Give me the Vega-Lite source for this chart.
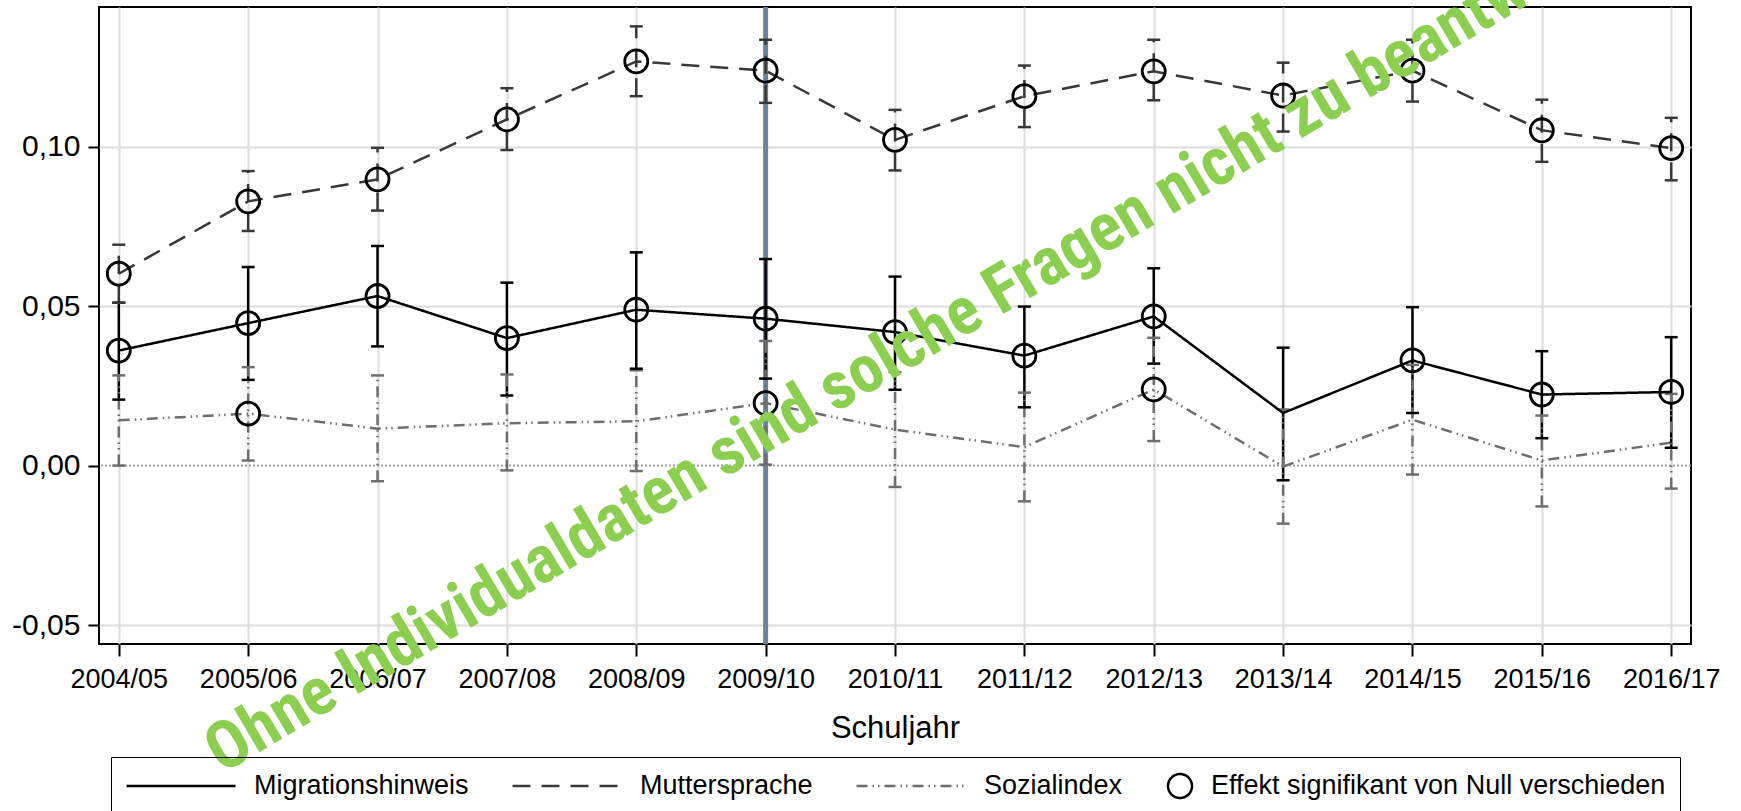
{
  "$schema": "https://vega.github.io/schema/vega-lite/v6.json",
  "autosize": {"type": "none"},
  "width": 1592,
  "height": 637,
  "padding": {"left": 99, "top": 7, "right": 50, "bottom": 167},
  "background": "white",
  "config": {
    "view": {"stroke": "black", "strokeWidth": 2},
    "font": "Liberation Sans",
    "axis": {
      "labelFont": "Liberation Sans",
      "titleFont": "Liberation Sans",
      "labelColor": "black",
      "titleColor": "black",
      "titleFontWeight": "normal",
      "tickColor": "black",
      "tickWidth": 2,
      "domain": false,
      "gridColor": "#dcdcdc",
      "gridWidth": 2
    },
    "legend": {
      "orient": "none",
      "legendX": 12,
      "legendY": 750,
      "direction": "horizontal",
      "columns": 4,
      "columnPadding": 42,
      "symbolType": "stroke",
      "symbolSize": 11881,
      "symbolStrokeWidth": 2.5,
      "symbolFillColor": "transparent",
      "labelFont": "Liberation Sans",
      "labelFontSize": 27,
      "labelColor": "black",
      "labelOffset": 17,
      "labelLimit": 0,
      "clipHeight": 30,
      "strokeColor": "black",
      "padding": 14
    }
  },
  "datasets": {
    "effekte": [
      {"jahr": "2004/05", "serie": "Migrationshinweis", "b": 0.0361, "lo": 0.0207, "hi": 0.0511, "sig": true},
      {"jahr": "2005/06", "serie": "Migrationshinweis", "b": 0.0447, "lo": 0.0269, "hi": 0.0623, "sig": true},
      {"jahr": "2006/07", "serie": "Migrationshinweis", "b": 0.0532, "lo": 0.0374, "hi": 0.0689, "sig": true},
      {"jahr": "2007/08", "serie": "Migrationshinweis", "b": 0.0400, "lo": 0.0220, "hi": 0.0574, "sig": true},
      {"jahr": "2008/09", "serie": "Migrationshinweis", "b": 0.0489, "lo": 0.0304, "hi": 0.0669, "sig": true},
      {"jahr": "2009/10", "serie": "Migrationshinweis", "b": 0.0461, "lo": 0.0273, "hi": 0.0648, "sig": true},
      {"jahr": "2010/11", "serie": "Migrationshinweis", "b": 0.0419, "lo": 0.0238, "hi": 0.0593, "sig": true},
      {"jahr": "2011/12", "serie": "Migrationshinweis", "b": 0.0345, "lo": 0.0183, "hi": 0.0499, "sig": true},
      {"jahr": "2012/13", "serie": "Migrationshinweis", "b": 0.0468, "lo": 0.0320, "hi": 0.0619, "sig": true},
      {"jahr": "2013/14", "serie": "Migrationshinweis", "b": 0.0165, "lo": -0.0046, "hi": 0.0370, "sig": false},
      {"jahr": "2014/15", "serie": "Migrationshinweis", "b": 0.0330, "lo": 0.0165, "hi": 0.0497, "sig": true},
      {"jahr": "2015/16", "serie": "Migrationshinweis", "b": 0.0223, "lo": 0.0086, "hi": 0.0359, "sig": true},
      {"jahr": "2016/17", "serie": "Migrationshinweis", "b": 0.0231, "lo": 0.0056, "hi": 0.0403, "sig": true},
      {"jahr": "2004/05", "serie": "Muttersprache", "b": 0.0602, "lo": 0.0511, "hi": 0.0693, "sig": true},
      {"jahr": "2005/06", "serie": "Muttersprache", "b": 0.0829, "lo": 0.0736, "hi": 0.0924, "sig": true},
      {"jahr": "2006/07", "serie": "Muttersprache", "b": 0.0898, "lo": 0.0800, "hi": 0.0997, "sig": true},
      {"jahr": "2007/08", "serie": "Muttersprache", "b": 0.1086, "lo": 0.0990, "hi": 0.1184, "sig": true},
      {"jahr": "2008/09", "serie": "Muttersprache", "b": 0.1268, "lo": 0.1159, "hi": 0.1378, "sig": true},
      {"jahr": "2009/10", "serie": "Muttersprache", "b": 0.1239, "lo": 0.1138, "hi": 0.1336, "sig": true},
      {"jahr": "2010/11", "serie": "Muttersprache", "b": 0.1022, "lo": 0.0926, "hi": 0.1116, "sig": true},
      {"jahr": "2011/12", "serie": "Muttersprache", "b": 0.1159, "lo": 0.1062, "hi": 0.1255, "sig": true},
      {"jahr": "2012/13", "serie": "Muttersprache", "b": 0.1237, "lo": 0.1146, "hi": 0.1336, "sig": true},
      {"jahr": "2013/14", "serie": "Muttersprache", "b": 0.1161, "lo": 0.1048, "hi": 0.1264, "sig": true},
      {"jahr": "2014/15", "serie": "Muttersprache", "b": 0.1239, "lo": 0.1142, "hi": 0.1336, "sig": true},
      {"jahr": "2015/16", "serie": "Muttersprache", "b": 0.1052, "lo": 0.0953, "hi": 0.1148, "sig": true},
      {"jahr": "2016/17", "serie": "Muttersprache", "b": 0.0996, "lo": 0.0895, "hi": 0.1091, "sig": true},
      {"jahr": "2004/05", "serie": "Sozialindex", "b": 0.0142, "lo": 0.0000, "hi": 0.0283, "sig": false},
      {"jahr": "2005/06", "serie": "Sozialindex", "b": 0.0163, "lo": 0.0016, "hi": 0.0309, "sig": true},
      {"jahr": "2006/07", "serie": "Sozialindex", "b": 0.0116, "lo": -0.0049, "hi": 0.0283, "sig": false},
      {"jahr": "2007/08", "serie": "Sozialindex", "b": 0.0133, "lo": -0.0015, "hi": 0.0286, "sig": false},
      {"jahr": "2008/09", "serie": "Sozialindex", "b": 0.0139, "lo": -0.0017, "hi": 0.0299, "sig": false},
      {"jahr": "2009/10", "serie": "Sozialindex", "b": 0.0196, "lo": 0.0003, "hi": 0.0391, "sig": true},
      {"jahr": "2010/11", "serie": "Sozialindex", "b": 0.0113, "lo": -0.0067, "hi": 0.0293, "sig": false},
      {"jahr": "2011/12", "serie": "Sozialindex", "b": 0.0058, "lo": -0.0112, "hi": 0.0229, "sig": false},
      {"jahr": "2012/13", "serie": "Sozialindex", "b": 0.0239, "lo": 0.0077, "hi": 0.0401, "sig": true},
      {"jahr": "2013/14", "serie": "Sozialindex", "b": -0.0003, "lo": -0.0182, "hi": 0.0176, "sig": false},
      {"jahr": "2014/15", "serie": "Sozialindex", "b": 0.0144, "lo": -0.0028, "hi": 0.0316, "sig": false},
      {"jahr": "2015/16", "serie": "Sozialindex", "b": 0.0016, "lo": -0.0128, "hi": 0.0157, "sig": false},
      {"jahr": "2016/17", "serie": "Sozialindex", "b": 0.0072, "lo": -0.0072, "hi": 0.0225, "sig": false}
    ],
    "reform": [{"jahr": "2009/10"}],
    "nulllinie": [{"wert": 0}],
    "wasserzeichen": [{"pos": 0.797, "wert": -0.0968, "text": "Ohne Individualdaten sind solche Fragen nicht zu beantworten"}]
  },
  "resolve": {"scale": {"x": "independent", "y": "independent"}},
  "layer": [
    {
      "layer": [
        {
          "data": {"name": "effekte"},
          "mark": {"type": "rule", "strokeWidth": 0},
          "encoding": {
            "x": {
              "field": "jahr", "type": "nominal",
              "scale": {"type": "point", "padding": 0.153},
              "axis": {"title": "Schuljahr", "labelAngle": 0, "grid": true, "labelFontSize": 27, "titleFontSize": 31, "tickSize": 12, "labelPadding": 10, "titlePadding": 21}
            },
            "y": {
              "field": "b", "type": "quantitative",
              "scale": {"domain": [-0.05596, 0.14387], "nice": false, "zero": false},
              "axis": {
                "title": null,
                "values": [-0.05, 0, 0.05, 0.1],
                "labelExpr": "replace(replace(format(datum.value, '.2f'), '.', ','), '\u2212', '-')",
                "labelFontSize": 30,
                "labelPadding": 8,
                "tickSize": 11,
                "gridColor": {"condition": {"test": "datum.value === 0", "value": "transparent"}, "value": "#dcdcdc"}
              }
            }
          }
        },
        {
          "data": {"name": "nulllinie"},
          "mark": {"type": "rule", "color": "#a0a0a0", "strokeWidth": 2, "strokeDash": [2, 2]},
          "encoding": {"y": {"field": "wert", "type": "quantitative"}}
        },
        {
          "data": {"name": "reform"},
          "mark": {"type": "rule", "color": "#6485a5", "strokeWidth": 5},
          "encoding": {"x": {"field": "jahr", "type": "nominal"}}
        },
        {
          "data": {"name": "effekte"},
          "mark": {"type": "rule", "strokeWidth": 2.5},
          "encoding": {
            "x": {"field": "jahr", "type": "nominal"},
            "y": {"field": "lo", "type": "quantitative"},
            "y2": {"field": "hi"},
            "color": {"field": "serie", "type": "nominal"},
            "strokeDash": {"field": "serie", "type": "nominal"}
          }
        },
        {
          "data": {"name": "effekte"},
          "mark": {"type": "tick", "size": 13, "thickness": 2.5, "opacity": 1},
          "encoding": {
            "x": {"field": "jahr", "type": "nominal"},
            "y": {"field": "hi", "type": "quantitative"},
            "color": {"field": "serie", "type": "nominal"}
          }
        },
        {
          "data": {"name": "effekte"},
          "mark": {"type": "tick", "size": 13, "thickness": 2.5, "opacity": 1},
          "encoding": {
            "x": {"field": "jahr", "type": "nominal"},
            "y": {"field": "lo", "type": "quantitative"},
            "color": {"field": "serie", "type": "nominal"}
          }
        },
        {
          "data": {"name": "effekte"},
          "mark": {"type": "line", "strokeWidth": 2.5},
          "encoding": {
            "x": {"field": "jahr", "type": "nominal"},
            "y": {"field": "b", "type": "quantitative"},
            "color": {
              "field": "serie", "type": "nominal",
              "scale": {
                "domain": ["Migrationshinweis", "Muttersprache", "Sozialindex", "Effekt signifikant von Null verschieden"],
                "range": ["#000000", "#383838", "#6e6e6e", "#000000"]
              },
              "legend": {
                "title": null,
                "encode": {
                  "symbols": {"update": {
                    "shape": {"signal": "datum.value === 'Effekt signifikant von Null verschieden' ? 'M-0.22,0A0.22,0.22,0,1,1,0.22,0A0.22,0.22,0,1,1,-0.22,0Z' : 'stroke'"},
                    "x": {"signal": "datum.value === 'Effekt signifikant von Null verschieden' ? 15 : datum.offset * 0.5"},
                    "fill": {"value": "transparent"},
                    "fillOpacity": {"value": 0}
                  }},
                  "labels": {"update": {
                    "x": {"signal": "datum.value === 'Effekt signifikant von Null verschieden' ? 46 : datum.offset + 17"}
                  }}
                }
              }
            },
            "strokeDash": {
              "field": "serie", "type": "nominal",
              "scale": {
                "domain": ["Migrationshinweis", "Muttersprache", "Sozialindex", "Effekt signifikant von Null verschieden"],
                "range": [[1, 0], [18, 11], [11, 5, 1.5, 4, 1.5, 5], [1, 0]]
              },
              "legend": {
                "title": null,
                "encode": {
                  "symbols": {"update": {
                    "shape": {"signal": "datum.value === 'Effekt signifikant von Null verschieden' ? 'M-0.22,0A0.22,0.22,0,1,1,0.22,0A0.22,0.22,0,1,1,-0.22,0Z' : 'stroke'"},
                    "x": {"signal": "datum.value === 'Effekt signifikant von Null verschieden' ? 15 : datum.offset * 0.5"},
                    "fill": {"value": "transparent"},
                    "fillOpacity": {"value": 0}
                  }},
                  "labels": {"update": {
                    "x": {"signal": "datum.value === 'Effekt signifikant von Null verschieden' ? 46 : datum.offset + 17"}
                  }}
                }
              }
            }
          }
        },
        {
          "data": {"name": "effekte"},
          "transform": [{"filter": "datum.sig"}],
          "mark": {"type": "point", "shape": "circle", "filled": false, "size": 530, "strokeWidth": 2.8, "color": "black", "opacity": 1},
          "encoding": {
            "x": {"field": "jahr", "type": "nominal"},
            "y": {"field": "b", "type": "quantitative"}
          }
        }
      ]
    },
    {
      "data": {"name": "wasserzeichen"},
      "mark": {"type": "text", "font": "Roboto Condensed, Liberation Sans Narrow, Roboto", "fontWeight": "bold", "fontSize": 67, "angle": -30.5, "align": "left", "baseline": "alphabetic", "color": "#8ccf50"},
      "encoding": {
        "x": {"field": "pos", "type": "quantitative", "scale": {"domain": [-0.153, 12.153], "nice": false, "zero": false}, "axis": null},
        "y": {"field": "wert", "type": "quantitative", "scale": {"domain": [-0.05596, 0.14387], "nice": false, "zero": false}, "axis": null},
        "text": {"field": "text"}
      }
    }
  ]
}
